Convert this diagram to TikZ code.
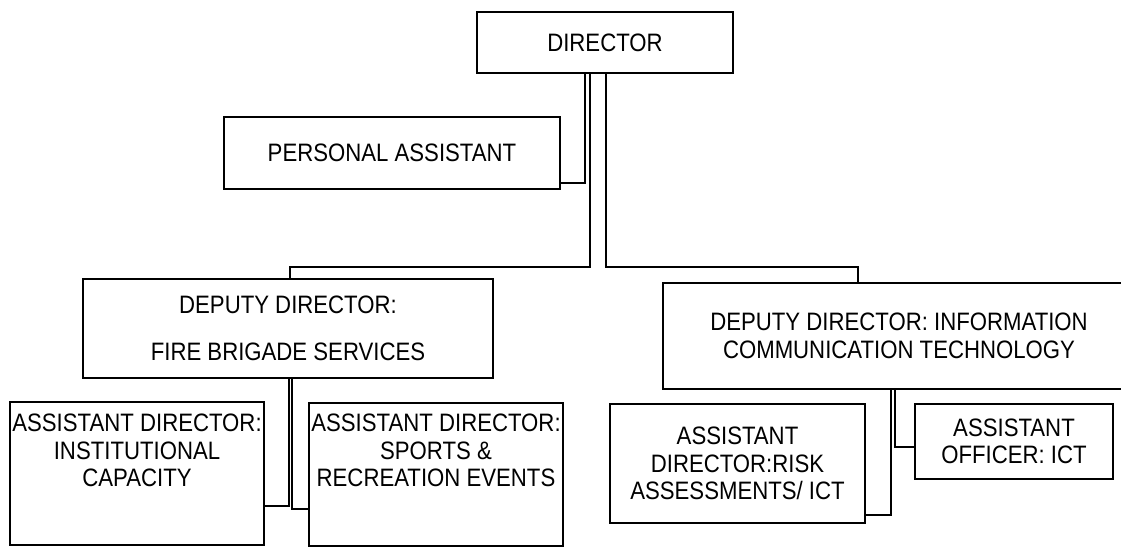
\documentclass[tikz,border=0pt]{standalone}
\usepackage{fontspec}
\setmainfont[FakeStretch=0.88]{Liberation Sans}

\begin{document}
\begin{tikzpicture}[x=0.5pt, y=-0.5pt,
    unit/.style={draw, line width=1.3pt, align=center, inner sep=0pt,
                 font=\fontsize{12.6}{13.8}\selectfont},
    txt/.style={align=center, inner sep=0pt, font=\fontsize{12.6}{13.8}\selectfont},
    link/.style={line width=1pt},
]
    \clip (0,0) rectangle (1121,547);

    % === top ===
    \node[unit, minimum width=128pt, minimum height=30.5pt] (dir) at (605,42.5) {DIRECTOR};
    \node[unit, minimum width=168pt, minimum height=36pt] (pa) at (392,153) {PERSONAL ASSISTANT};

    % === deputies ===
    \node[unit, minimum width=205pt, minimum height=49.5pt] (fire) at (288,328.5)
        {DEPUTY DIRECTOR:\\[9.7pt] FIRE BRIGADE SERVICES};
    \node[unit, minimum width=236pt, minimum height=53pt] (ict) at (899,336)
        {DEPUTY DIRECTOR: INFORMATION\\ COMMUNICATION TECHNOLOGY};

    % === assistants ===
    \node[unit, minimum width=127pt, minimum height=71.5pt] (inst) at (137,473.5) {};
    \node[txt] (inst-t) at (137,450.5) {ASSISTANT DIRECTOR:\\ INSTITUTIONAL\\ CAPACITY};
    \node[unit, minimum width=127pt, minimum height=71.5pt] (sport) at (436,474.5) {};
    \node[txt] (sport-t) at (436,450.5) {ASSISTANT DIRECTOR:\\ SPORTS \&\\ RECREATION EVENTS};
    \node[unit, minimum width=127.5pt, minimum height=59.5pt] (risk) at (737.5,463.5)
        {ASSISTANT\\ DIRECTOR:RISK\\ ASSESSMENTS/ ICT};
    \node[unit, minimum width=99pt, minimum height=37.5pt] (officer) at (1014,441.5)
        {ASSISTANT\\ OFFICER: ICT};

    % connectors
    \draw[link] (dir.south -| 585,0) |- (pa.east |- 0,183);
    \draw[link] (dir.south -| 590,0) |- (290,267) -- (fire.north -| 290,0);
    \draw[link] (dir.south -| 606,0) |- (858,267) -- (ict.north -| 858,0);

    \draw[link] (fire.south -| 289,0) |- (inst.east |- 0,506);
    \draw[link] (fire.south -| 292,0) |- (sport.west |- 0,509);

    \draw[link] (ict.south -| 891,0) |- (risk.east |- 0,515);
    \draw[link] (ict.south -| 895,0) |- (officer.west |- 0,447);
\end{tikzpicture}
\end{document}
